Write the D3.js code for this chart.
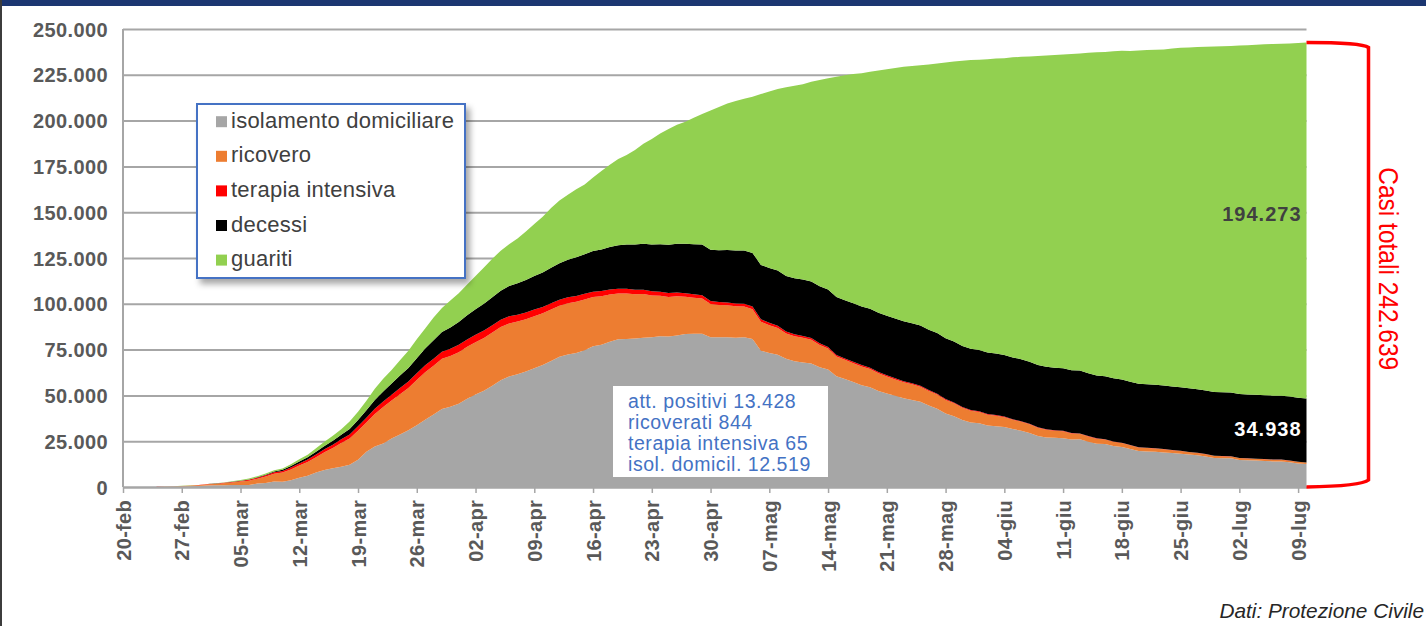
<!DOCTYPE html>
<html>
<head>
<meta charset="utf-8">
<script src="https://cdn.jsdelivr.net/npm/d3@7"></script>
<style>
  body { margin: 0; background: #fff; }
  svg { display: block; font-family: "Liberation Sans", Arial, sans-serif; }
</style>
</head>
<body>
<script>
// dati giornalieri dal 24-feb al 10-lug (Protezione Civile)
const firstDay = "2020-02-24";

const isolamento = [94,162,221,284,412,543,
  798,927,1000,1065,1155,1060,1843,2180,2936,2879,3724,5036,6201,7860,9268,10197,11108,12090,14935,19185,22116,23783,26522,28697,30920,33698,36653,39533,42588,43752,45420,
  48134,50456,52579,55270,58320,60313,61557,63084,64873,66534,68744,71063,72333,73094,74696,76778,77660,79252,80615,80758,81104,81510,81710,82286,82212,82722,83504,83619,83652,81708,
  81796,81808,81436,81678,80770,74426,73139,72157,69974,68679,67950,67449,65392,64132,60470,59012,57278,55597,54422,52452,51051,49770,48485,47428,46574,44504,42732,40118,38606,36561,35275,
  34844,33569,33202,32790,31658,30720,29499,27804,26996,26876,26654,25954,26023,24703,23593,23443,22414,21861,20692,19662,19386,19193,18896,18538,18165,17706,17336,16662,15872,15743,
  15651,14793,14559,14435,14257,13981,13983,13479,12872,12519];

const ricovero = [101,114,128,248,345,401,
  639,742,1034,1346,1790,2394,2651,3557,4316,5038,5838,6650,7426,8372,9663,11025,12894,14363,15757,16020,17708,19846,20692,21937,23112,24753,26029,26676,27386,27795,28192,
  28403,28540,28741,29010,28949,28976,28718,28485,28399,28242,28144,27847,28023,28011,27643,26893,26490,25786,25007,24906,24134,23805,22871,22068,21533,21372,20353,19723,19210,18149,
  17569,17357,17242,16823,16270,15769,15174,14636,13834,13618,13539,12865,12172,11453,10792,10400,10311,10207,9991,9624,9269,8957,8695,8613,8185,7917,7729,7379,7094,6680,6387,
  6099,5916,5742,5301,5002,4864,4729,4581,4320,3894,3747,3301,3022,2867,2749,2474,2277,2168,2062,1948,1899,1862,1729,1540,1474,1342,1273,1212,1156,1090,
  1046,1025,1004,975,955,956,899,871,856,844];

const terapia = [26,35,36,56,64,105,
  140,166,229,295,351,462,567,650,733,877,1028,1153,1328,1518,1672,1851,2060,2257,2498,2655,2857,3009,3204,3396,3489,3612,3732,3856,3906,3981,4023,
  4035,4053,4068,3994,3977,3898,3792,3693,3605,3497,3381,3343,3260,3186,3079,2936,2812,2733,2635,2573,2471,2384,2267,2173,2102,2009,1956,1863,1795,1694,
  1578,1539,1501,1479,1427,1333,1311,1168,1034,1027,999,952,893,855,808,775,762,749,716,676,640,595,572,553,541,521,505,489,475,450,435,
  424,408,353,338,316,293,287,283,263,249,236,227,220,209,207,168,163,161,152,148,127,115,107,103,97,94,86,83,80,87,
  79,77,71,72,71,69,67,70,69,65];

const decessi = [7,10,12,17,21,29,
  34,52,79,107,148,197,233,366,463,631,827,1016,1266,1441,1809,2158,2503,2978,3405,4032,4825,5476,6077,6820,7503,8165,9134,10023,10779,11591,12428,
  13155,13915,14681,15362,15887,16523,17127,17669,18279,18849,19468,19899,20465,21067,21645,22170,22745,23227,23660,24114,24648,25085,25549,25969,26384,26644,26977,27359,27682,27967,
  28236,28710,28884,29079,29315,29684,29958,30201,30395,30560,30739,30911,31106,31368,31610,31763,31908,32007,32169,32330,32486,32616,32735,32785,32877,32955,33072,33142,33229,33340,33415,
  33475,33530,33601,33689,33774,33846,33899,33964,34043,34114,34167,34223,34301,34345,34371,34405,34448,34514,34561,34610,34634,34657,34675,34644,34678,34708,34716,34738,34744,34767,
  34788,34818,34833,34854,34861,34869,34899,34914,34926,34938];

const guariti = [1,1,3,45,46,50,
  83,149,160,276,414,523,589,622,724,724,1045,1258,1439,1966,2335,2749,2941,4025,4440,5129,6072,7024,7432,8326,9362,10361,10950,12384,13030,14620,15729,
  16847,18278,19758,20996,21815,22837,24392,26491,28470,30455,32534,34211,35435,37130,38092,40164,42727,44927,47055,48877,51600,54543,57576,60498,63120,64928,66624,68941,71252,75945,
  78249,79914,81654,82879,85231,93245,96276,99023,103031,105186,106587,109039,112541,115288,120205,122810,125176,127326,129401,132282,134560,136720,138840,140479,141981,144658,147101,150604,152844,155633,157507,
  158355,160092,160938,161895,163781,165078,166584,168646,169939,170630,171338,172600,173085,174865,176370,177010,178526,179455,180544,181907,182453,182893,183426,184585,185292,186111,186725,187615,188584,188891,
  189196,190248,190717,191083,191467,191944,192108,192815,193640,194273];

const seriesKeys = ["isolamento", "ricovero", "terapia", "decessi", "guariti"];
const seriesNames = ["isolamento domiciliare", "ricovero", "terapia intensiva", "decessi", "guariti"];
const seriesColors = ["#A6A6A6", "#ED7D31", "#FF0000", "#000000", "#92D050"];

const axisStart = "2020-02-20";
const axisEnd = "2020-07-10";
const yMax = 250000;
const yStep = 25000;

const noteLines = ["att. positivi 13.428", "ricoverati 844", "terapia intensiva 65", "isol. domicil. 12.519"];
const labelGuariti = "194.273";
const labelDecessi = "34.938";
const labelTotale = "Casi totali 242.639";
const sourceText = "Dati: Protezione Civile";

// dimensioni
const svgWidth = 1426;
const svgHeight = 626;
const chartMargin = { top: 29, right: 119.5, bottom: 139, left: 123 };
const width = svgWidth - chartMargin.left - chartMargin.right;
const height = svgHeight - chartMargin.top - chartMargin.bottom;

const itFormat = d3.formatLocale({ decimal: ",", thousands: ".", grouping: [3], currency: ["€", ""] }).format(",");
const itTime = d3.timeFormatLocale({
  dateTime: "%A %e %B %Y, %X", date: "%d/%m/%Y", time: "%H:%M:%S", periods: ["AM", "PM"],
  days: ["domenica","lunedì","martedì","mercoledì","giovedì","venerdì","sabato"],
  shortDays: ["dom","lun","mar","mer","gio","ven","sab"],
  months: ["gennaio","febbraio","marzo","aprile","maggio","giugno","luglio","agosto","settembre","ottobre","novembre","dicembre"],
  shortMonths: ["gen","feb","mar","apr","mag","giu","lug","ago","set","ott","nov","dic"]
});
const tickFormat = itTime.utcFormat("%d-%b");
const parse = d3.utcParse("%Y-%m-%d");

const start = parse(firstDay);
const data = isolamento.map((v, i) => ({
  date: d3.utcDay.offset(start, i),
  isolamento: v,
  ricovero: ricovero[i],
  terapia: terapia[i],
  decessi: decessi[i],
  guariti: guariti[i]
}));

const svg = d3.select("body").append("svg")
  .attr("width", svgWidth)
  .attr("height", svgHeight);

// ombra della legenda
const defs = svg.append("defs");
defs.append("filter").attr("id", "shadow")
  .attr("x", "-10%").attr("y", "-10%").attr("width", "130%").attr("height", "130%")
  .append("feDropShadow")
  .attr("dx", 4).attr("dy", 5).attr("stdDeviation", 3)
  .attr("flood-color", "#000").attr("flood-opacity", 0.35);

// cornice
svg.append("rect").attr("x", 0).attr("y", 0).attr("width", svgWidth).attr("height", 6).attr("fill", "#1C3671");
svg.append("rect").attr("x", 0).attr("y", 0).attr("width", 2).attr("height", svgHeight).attr("fill", "#3c3c3c");

const chartGroup = svg.append("g")
  .attr("transform", `translate(${chartMargin.left}, ${chartMargin.top})`);

const x = d3.scaleUtc()
  .domain([parse(axisStart), parse(axisEnd)])
  .range([0, width]);

const y = d3.scaleLinear()
  .domain([0, yMax])
  .range([height, 0]);

// griglia + etichette asse y
const yAxis = chartGroup.append("g")
  .call(d3.axisLeft(y)
    .tickValues(d3.range(0, yMax + 1, yStep))
    .tickSize(-width)
    .tickPadding(15)
    .tickFormat(itFormat));
yAxis.select(".domain").remove();
yAxis.selectAll(".tick line").attr("stroke", "#A6A6A6").attr("stroke-width", 2);
yAxis.selectAll(".tick text")
  .attr("fill", "#595959")
  .attr("font-size", "20px")
  .attr("font-weight", "bold")
  .attr("letter-spacing", "0.4px")
  .attr("dy", "0.35em");

// aree impilate
const stack = d3.stack().keys(seriesKeys);
const layers = stack(data);

const area = d3.area()
  .x(d => x(d.data.date))
  .y0(d => y(d[0]))
  .y1(d => y(d[1]));

chartGroup.selectAll(".layer")
  .data(layers)
  .enter()
  .append("path")
  .attr("class", "layer")
  .attr("d", area)
  .attr("fill", (d, i) => seriesColors[i]);

// asse y (linea verticale)
chartGroup.append("line")
  .attr("x1", 0).attr("x2", 0)
  .attr("y1", 0).attr("y2", height)
  .attr("stroke", "#A6A6A6").attr("stroke-width", 2);

// asse x
const xAxis = chartGroup.append("g")
  .attr("transform", `translate(0, ${height})`)
  .call(d3.axisBottom(x)
    .tickValues(d3.utcDay.range(parse(axisStart), parse(axisEnd), 7))
    .tickSize(6)
    .tickSizeOuter(0)
    .tickFormat(tickFormat));
xAxis.select(".domain").attr("stroke", "#A6A6A6").attr("stroke-width", 2);
xAxis.selectAll(".tick line").attr("stroke", "#A6A6A6").attr("stroke-width", 1.5);
xAxis.selectAll(".tick text")
  .attr("transform", "rotate(-90)")
  .attr("x", -13)
  .attr("y", 0)
  .attr("dy", "0.35em")
  .attr("text-anchor", "end")
  .attr("fill", "#595959")
  .attr("font-size", "20px")
  .attr("font-weight", "bold")
  .attr("letter-spacing", "0.3px");

// etichette valori finali
const last = data[data.length - 1];
chartGroup.append("text")
  .attr("x", x(last.date) - 5)
  .attr("y", 192)
  .attr("text-anchor", "end")
  .attr("fill", "#404040")
  .attr("font-size", "20px")
  .attr("font-weight", "bold")
  .attr("letter-spacing", "1px")
  .text(labelGuariti);

chartGroup.append("text")
  .attr("x", x(last.date) - 5)
  .attr("y", 406.5)
  .attr("text-anchor", "end")
  .attr("fill", "#fff")
  .attr("font-size", "20px")
  .attr("font-weight", "bold")
  .attr("letter-spacing", "1px")
  .text(labelDecessi);

// riquadro attualmente positivi
const note = chartGroup.append("g").attr("transform", "translate(490, 357)");
note.append("rect")
  .attr("width", 215).attr("height", 91)
  .attr("fill", "#fff");
note.selectAll("text")
  .data(noteLines)
  .enter()
  .append("text")
  .attr("x", 15)
  .attr("y", (d, i) => 22 + i * 21)
  .attr("fill", "#4472C4")
  .attr("font-size", "19.5px")
  .attr("letter-spacing", "0.55px")
  .text(d => d);

// parentesi casi totali
const totale = last.isolamento + last.ricovero + last.terapia + last.decessi + last.guariti;
const bx = width;
const yTop = y(totale);
const yBot = y(0);
chartGroup.append("path")
  .attr("d", `M${bx},${yTop} Q${bx + 55},${yTop} ${bx + 62},${yTop + 5} L${bx + 62},${yBot - 7} Q${bx + 55},${yBot - 1} ${bx},${yBot}`)
  .attr("fill", "none")
  .attr("stroke", "#FF0000")
  .attr("stroke-width", 3.5);

chartGroup.append("text")
  .attr("transform", `translate(${bx + 72}, ${(yTop + yBot) / 2 + 4}) rotate(90)`)
  .attr("text-anchor", "middle")
  .attr("fill", "#FF0000")
  .attr("font-size", "28px")
  .attr("textLength", 203)
  .attr("lengthAdjust", "spacingAndGlyphs")
  .text(labelTotale);

// legenda
const legend = chartGroup.append("g").attr("transform", "translate(74, 75)");
legend.append("rect")
  .attr("width", 268).attr("height", 174)
  .attr("fill", "#fff")
  .attr("stroke", "#4472C4")
  .attr("stroke-width", 2)
  .attr("filter", "url(#shadow)");

const items = legend.selectAll(".item")
  .data(seriesNames)
  .enter()
  .append("g")
  .attr("class", "item")
  .attr("transform", (d, i) => `translate(19, ${23.7 + i * 34.6})`);
items.append("rect")
  .attr("x", 0).attr("y", -11.5)
  .attr("width", 11).attr("height", 11)
  .attr("fill", (d, i) => seriesColors[i]);
items.append("text")
  .attr("x", 15)
  .attr("y", 0)
  .attr("fill", "#404040")
  .attr("font-size", "22px")
  .attr("letter-spacing", "0.25px")
  .text(d => d);

// fonte
svg.append("text")
  .attr("x", 1424)
  .attr("y", 618)
  .attr("text-anchor", "end")
  .attr("fill", "#262626")
  .attr("font-size", "20.8px")
  .attr("font-style", "italic")
  .text(sourceText);
</script>
</body>
</html>
